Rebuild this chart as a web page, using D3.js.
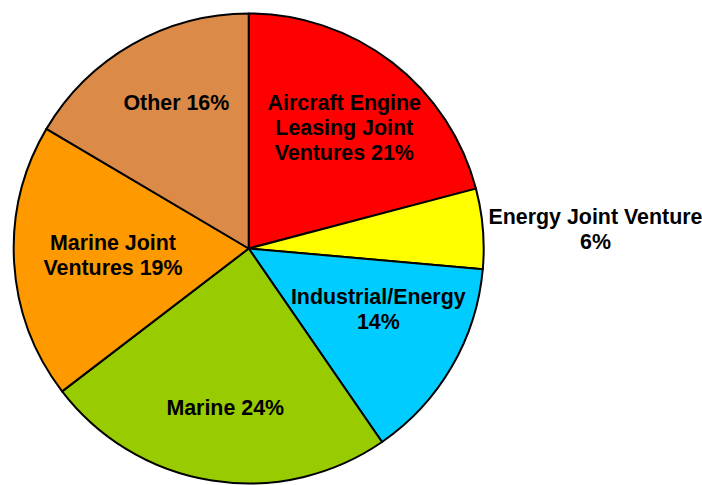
<!DOCTYPE html>
<html>
<head>
<meta charset="utf-8">
<script src="https://cdn.jsdelivr.net/npm/d3@7"></script>
<style>
  body { margin: 0; background: #fff; }
  .lbl { font-family: "Liberation Sans", Arial, sans-serif; font-weight: bold; font-size: 21.4px; fill: #000; }
</style>
</head>
<body>
<div class="js-pie"></div>
<script>
// slice data, clockwise from 12 o'clock
var categories = ['Aircraft Engine Leasing Joint Ventures', 'Energy Joint Venture', 'Industrial/Energy', 'Marine', 'Marine Joint Ventures', 'Other'];
var shares = [20.9, 5.5, 14.0, 24.2, 18.9, 16.5];
var labels = [
  ['Aircraft Engine', 'Leasing Joint', 'Ventures 21%'],
  ['Energy Joint Venture', '6%'],
  ['Industrial/Energy', '14%'],
  ['Marine 24%'],
  ['Marine Joint', 'Ventures 19%'],
  ['Other 16%']
];
var colors = ['#FF0000', '#FFFF00', '#00CCFF', '#99CC00', '#FF9900', '#DB8A47'];

var width = 702, height = 485;
var cx = 248.7, cy = 248.5, radius = 235;

var svg = d3.select('.js-pie').append('svg')
  .attr('width', width)
  .attr('height', height);

var g = svg.append('g').attr('transform', 'translate(' + cx + ',' + cy + ')');

var data = categories.map(function(c, i) {
  return {name: c, value: shares[i], lines: labels[i], color: colors[i]};
});

var pie = d3.pie().sort(null).value(function(d) { return d.value; });
var arc = d3.arc().innerRadius(0).outerRadius(radius);
var labelArc = d3.arc().innerRadius(150).outerRadius(150);

var arcs = pie(data);

g.selectAll('path.slice')
  .data(arcs)
  .enter()
  .append('path')
  .attr('class', 'slice')
  .attr('d', arc)
  .attr('fill', function(d) { return d.data.color; })
  .attr('stroke', '#000')
  .attr('stroke-width', 2)
  .attr('stroke-linejoin', 'round');

// label nudges (px) so text sits like the original
var nudge = {
  'Aircraft Engine Leasing Joint Ventures': [4, -2],
  'Energy Joint Venture': [1, 10],
  'Industrial/Energy': [0, -15],
  'Marine': [0, 11],
  'Marine Joint Ventures': [14, -3],
  'Other': [2, -16]
};
var lineH = 25;

arcs.forEach(function(d) {
  var pos;
  if (d.data.name === 'Energy Joint Venture') {
    // sits outside the pie, to the right
    var a = (d.startAngle + d.endAngle) / 2;
    pos = [Math.sin(a) * (radius + 112) , -Math.cos(a) * (radius + 112)];
  } else {
    pos = labelArc.centroid(d);
  }
  var n = nudge[d.data.name] || [0, 0];
  pos = [pos[0] + n[0], pos[1] + n[1]];
  var t = g.append('text')
    .attr('class', 'lbl')
    .attr('text-anchor', 'middle')
    .attr('transform', 'translate(' + pos[0] + ',' + pos[1] + ')');
  var nl = d.data.lines.length;
  d.data.lines.forEach(function(line, i) {
    t.append('tspan')
      .attr('x', 0)
      .attr('y', (i - (nl - 1) / 2) * lineH)
      .attr('dy', '0.36em')
      .text(line);
  });
});
</script>
</body>
</html>
